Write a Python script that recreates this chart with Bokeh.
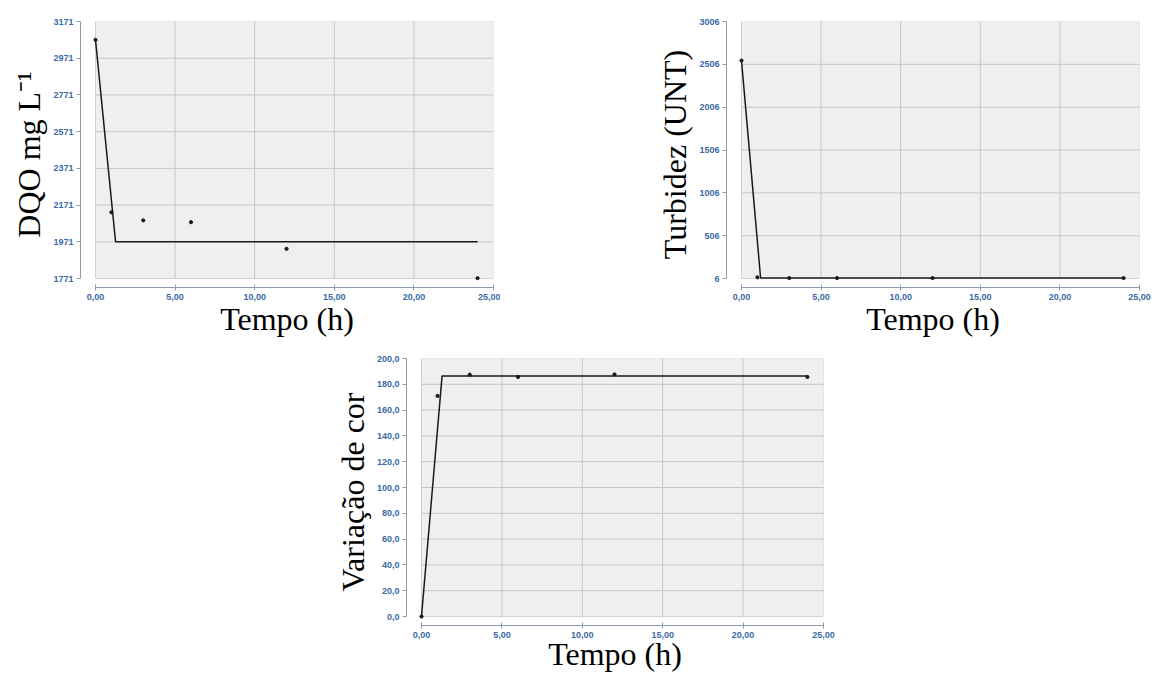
from bokeh.plotting import figure
from bokeh.models import Range1d, FixedTicker
from bokeh.layouts import column, row
from bokeh.embed import file_html
from bokeh.resources import INLINE

# ---- data ----
tempo_obs = [0, 1, 3, 6, 12, 24]
dqo_obs = [3071, 2132, 2088, 2078, 1933, 1773]
turb_obs = [2550, 20, 12, 12, 12, 12]
cor_obs = [0, 171, 187.5, 185.7, 187.7, 185.7]

dqo_fit_t = [0, 1.26, 24]
dqo_fit_y = [3071, 1971, 1971]
turb_fit_t = [0, 1.2, 24]
turb_fit_y = [2550, 12, 12]
cor_fit_t = [0, 1.28, 24]
cor_fit_y = [0, 186.5, 186.5]

x_ticks = [0, 5, 10, 15, 20, 25]
x_tick_labels = ["0,00", "5,00", "10,00", "15,00", "20,00", "25,00"]
dqo_ticks = [1771, 1971, 2171, 2371, 2571, 2771, 2971, 3171]
turb_ticks = [6, 506, 1006, 1506, 2006, 2506, 3006]
cor_ticks = [0, 20, 40, 60, 80, 100, 120, 140, 160, 180, 200]
cor_tick_labels = ["0,0", "20,0", "40,0", "60,0", "80,0", "100,0", "120,0",
                   "140,0", "160,0", "180,0", "200,0"]

TICK_COLOR = "#3a6aa5"
AXIS_COLOR = "#8c9bb0"


def panel(width, height, ml, mr, mt, mb, yticks, ylabels, ylabel,
          obs, fit_t, fit_y, xlab_standoff):
    fw = width - ml - mr
    fh = height - mt - mb
    x0, x1 = x_ticks[0], x_ticks[-1]
    y0, y1 = yticks[0], yticks[-1]
    gx = (x1 - x0) * 15.0 / (fw - 15)
    gy = (y1 - y0) * 9.0 / (fh - 9)
    p = figure(width=width, height=height,
               x_range=Range1d(x0 - gx, x1), y_range=Range1d(y0 - gy, y1),
               output_backend="svg", toolbar_location=None,
               min_border_left=ml, min_border_right=mr,
               min_border_top=mt, min_border_bottom=mb)
    p.outline_line_color = None
    p.background_fill_color = "white"
    p.grid.visible = False

    # plot area
    p.quad(left=[x0], right=[x1], bottom=[y0], top=[y1],
           fill_color="#efefef", line_color="#d2d2d2", line_width=1)
    # grid lines
    inner_x = x_ticks[1:-1]
    p.segment(x0=inner_x, x1=inner_x, y0=[y0] * len(inner_x), y1=[y1] * len(inner_x),
              line_color="#c6c6c6", line_width=1)
    inner_y = yticks[1:-1]
    p.segment(x0=[x0] * len(inner_y), x1=[x1] * len(inner_y), y0=inner_y, y1=inner_y,
              line_color="#c6c6c6", line_width=1)

    p.line(fit_t, fit_y, line_color="#1a1a1a", line_width=1.5)
    p.scatter(tempo_obs, obs, size=3.2, color="#1a1a1a")

    for ax in (p.xaxis[0], p.yaxis[0]):
        ax.axis_line_color = AXIS_COLOR
        ax.major_tick_line_color = AXIS_COLOR
        ax.minor_tick_line_color = None
        ax.major_label_text_color = TICK_COLOR
        ax.major_label_text_font = "Liberation Sans"
        ax.major_label_text_font_style = "bold"
        ax.major_label_text_font_size = "9px"
        ax.axis_label_text_font = "Liberation Serif"
        ax.axis_label_text_font_style = "normal"
        ax.axis_label_text_font_size = "32px"
        ax.axis_label_text_color = "black"

    xa = p.xaxis[0]
    xa.ticker = FixedTicker(ticks=x_ticks)
    xa.major_label_overrides = {t: s for t, s in zip(x_ticks, x_tick_labels)}
    xa.bounds = (x0, x1)
    xa.major_tick_in = 3
    xa.major_tick_out = 3
    xa.major_label_standoff = 3
    xa.axis_label = "Tempo (h)"
    xa.axis_label_standoff = xlab_standoff

    ya = p.yaxis[0]
    ya.ticker = FixedTicker(ticks=yticks)
    ya.major_label_overrides = {t: s for t, s in zip(yticks, ylabels)}
    ya.bounds = (y0, y1)
    ya.major_tick_in = 0
    ya.major_tick_out = 4
    ya.major_label_standoff = 3
    ya.axis_label = ylabel
    ya.axis_label_standoff = 3
    return p


p1 = panel(500, 342, 80, 7, 21, 53, dqo_ticks, [str(v) for v in dqo_ticks],
           "DQO mg L\u207b\u00b9", dqo_obs, dqo_fit_t, dqo_fit_y, -2)
p2 = panel(655, 342, 226, 16, 19, 55, turb_ticks, [str(v) for v in turb_ticks],
           "Turbidez (UNT)", turb_obs, turb_fit_t, turb_fit_y, -2)
p3 = panel(835, 333, 406, 12, 16, 50, cor_ticks, cor_tick_labels,
           "Variação de cor", cor_obs, cor_fit_t, cor_fit_y, -5)

layout = column(row(p1, p2), p3)
open("out.html", "w").write(file_html(layout, INLINE))
